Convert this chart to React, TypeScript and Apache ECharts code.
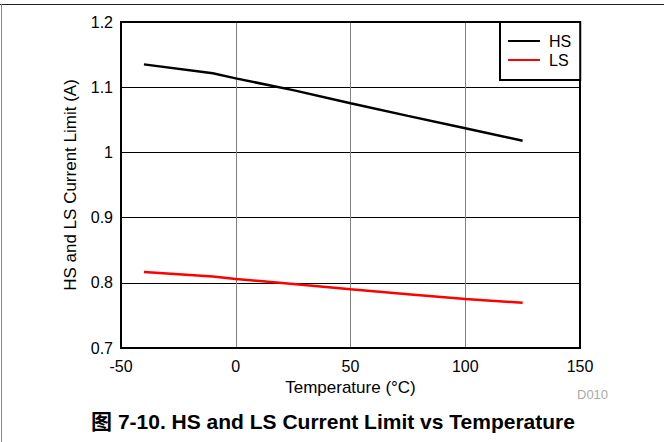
import React, { useEffect, useRef } from "react";
import * as echarts from "echarts";

const temperatures = [-40, -10, 0, 25, 50, 75, 100, 125];
const hsLimit = [1.135, 1.1215, 1.1135, 1.0955, 1.0755, 1.056, 1.037, 1.018];
const lsLimit = [0.8165, 0.8095, 0.806, 0.798, 0.79, 0.7825, 0.775, 0.7695];
const seriesNames = ["HS", "LS"];
const xTicks = { min: -50, max: 150, interval: 50 };
const yTicks = { min: 0.7, max: 1.2, interval: 0.1 };

const FONT = "Liberation Sans, Arial, Helvetica, sans-serif";

export default function App() {
  const ref = useRef<HTMLDivElement>(null);
  useEffect(() => {
    if (!ref.current) return;
    const chart = echarts.init(ref.current, null, { renderer: "svg" });
    const pair = (xs: number[], ys: number[]) => xs.map((x, i) => [x, ys[i]]);
    chart.setOption({
      animation: false,
      backgroundColor: "#fff",
      textStyle: { fontFamily: FONT },
      grid: {
        left: 121,
        top: 22,
        width: 459,
        height: 326,
        show: true,
        borderColor: "#000",
        borderWidth: 2,
        backgroundColor: "transparent",
        z: 3,
      },
      legend: {
        data: seriesNames.map((n) => ({ name: n, icon: "rect" })),
        orient: "vertical",
        left: 500,
        top: 22,
        padding: [11, 9, 12, 8],
        itemWidth: 32,
        itemHeight: 2,
        itemGap: 3,
        backgroundColor: "#fff",
        borderColor: "#000",
        borderWidth: 2,
        textStyle: { fontFamily: FONT, fontSize: 16, color: "#000", padding: [0, 0, 0, 4] },
        z: 10,
      },
      xAxis: {
        type: "value",
        min: xTicks.min,
        max: xTicks.max,
        interval: xTicks.interval,
        name: "Temperature (°C)",
        nameLocation: "middle",
        nameGap: 28,
        nameTextStyle: { fontFamily: FONT, fontSize: 17, color: "#000" },
        axisLine: { show: false },
        axisTick: { show: false },
        axisLabel: { fontFamily: FONT, fontSize: 16, color: "#000", margin: 10 },
        splitLine: { show: true, lineStyle: { color: "#808080", width: 1 } },
      },
      yAxis: {
        type: "value",
        min: yTicks.min,
        max: yTicks.max,
        interval: yTicks.interval,
        name: "HS and LS Current Limit (A)",
        nameLocation: "middle",
        nameGap: 42,
        nameTextStyle: { fontFamily: FONT, fontSize: 17, color: "#000" },
        axisLine: { show: false },
        axisTick: { show: false },
        axisLabel: { fontFamily: FONT, fontSize: 16, color: "#000", margin: 8 },
        splitLine: { show: true, lineStyle: { color: "#000", width: 1 } },
      },
      series: [
        {
          name: seriesNames[0],
          type: "line",
          data: pair(temperatures, hsLimit),
          showSymbol: false,
          symbol: "none",
          lineStyle: { color: "#000", width: 2.5 },
          itemStyle: { color: "#000" },
          z: 4,
        },
        {
          name: seriesNames[1],
          type: "line",
          data: pair(temperatures, lsLimit),
          showSymbol: false,
          symbol: "none",
          lineStyle: { color: "#ff0000", width: 2.5 },
          itemStyle: { color: "#ff0000" },
          z: 4,
        },
      ],
      graphic: [
        {
          type: "line",
          shape: { x1: 0, y1: 4.5, x2: 664, y2: 4.5 },
          style: { stroke: "#222", lineWidth: 1 },
        },
        {
          type: "line",
          shape: { x1: 1.5, y1: 4, x2: 1.5, y2: 442 },
          style: { stroke: "#888", lineWidth: 1 },
        },
        {
          type: "text",
          left: 577,
          top: 388,
          style: { text: "D010", fill: "#aaaaaa", fontSize: 13, fontFamily: FONT },
        },
        {
          type: "text",
          x: 333,
          y: 421,
          style: {
            text: "图 7-10. HS and LS Current Limit vs Temperature",
            fill: "#000",
            fontSize: 21,
            fontWeight: "bold",
            fontFamily: "Liberation Sans, Arial, Noto Sans CJK SC, sans-serif",
            align: "center",
            verticalAlign: "middle",
          },
        },
      ],
    });
    return () => chart.dispose();
  }, []);
  return (
    <div
      ref={ref}
      style={{ position: "fixed", left: 0, top: 0, width: 664, height: 442 }}
    />
  );
}
